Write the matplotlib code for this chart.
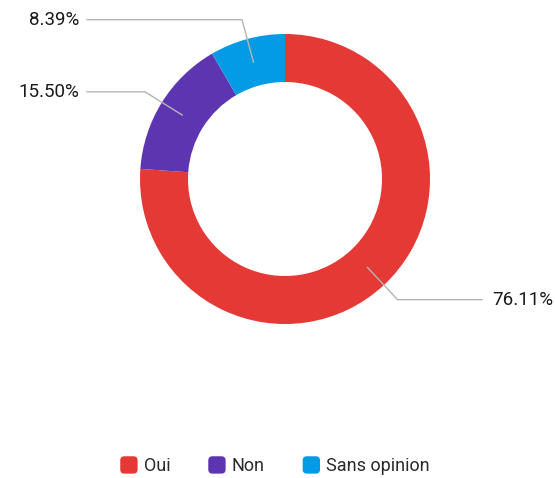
import matplotlib.pyplot as plt
import matplotlib.patches as patches
from matplotlib.legend_handler import HandlerPatch
import numpy as np

# Data
labels = ['Oui', 'Non', 'Sans opinion']
values = [76.11, 15.50, 8.39]
colors = ['#E53935', '#5E35B1', '#039BE5']

plt.rcParams['font.family'] = ['Roboto', 'DejaVu Sans']

# Figure in pixel coordinates
fig = plt.figure(figsize=(5.55, 4.78), dpi=100)
ax = fig.add_axes([0, 0, 1, 1])

cx, cy = 285, 478 - 179
r_out, width = 145, 48

wedges, _ = ax.pie(values, colors=colors, startangle=90, counterclock=False,
                   center=(cx, cy), radius=r_out, frame=True,
                   wedgeprops=dict(width=width, linewidth=0))
ax.set_xlim(0, 555)
ax.set_ylim(0, 478)
ax.set_aspect('equal')
ax.axis('off')

# Leader lines and percentage labels
r_mid = r_out - width / 2
r_elbow = 165
for w, v in zip(wedges, values):
    ang = np.deg2rad((w.theta1 + w.theta2) / 2)
    x0, y0 = cx + r_mid * np.cos(ang), cy + r_mid * np.sin(ang)
    x1, y1 = cx + r_elbow * np.cos(ang), cy + r_elbow * np.sin(ang)
    if np.cos(ang) < 0:
        x2 = 87
        ax.text(x2 - 8, y1, f'{v:.2f}%', ha='right', va='center',
                fontsize=13.5, color='#1a1a1a')
    else:
        x2 = 482
        ax.text(x2 + 10, y1, f'{v:.2f}%', ha='left', va='center',
                fontsize=13.5, color='#1a1a1a')
    ax.plot([x0, x1, x2], [y0, y1, y1], color='#b5b5b5', linewidth=1,
            solid_joinstyle='round')


# Rounded square legend handles
class RoundHandler(HandlerPatch):
    def create_artists(self, legend, orig_handle, xdescent, ydescent,
                       width, height, fontsize, trans):
        s = 12.5  # points, about 17 px
        y = -ydescent + (height - s) / 2
        p = patches.FancyBboxPatch((-xdescent + 2, y + 2), s - 4, s - 4,
                                   boxstyle='round,pad=2,rounding_size=3',
                                   facecolor=orig_handle.get_facecolor(),
                                   edgecolor='none', transform=trans)
        return [p]


handles = [patches.Patch(facecolor=c, label=l) for c, l in zip(colors, labels)]
ax.legend(handles=handles, loc='center', bbox_to_anchor=(275 / 555, 1 - 466 / 478),
          ncol=3, frameon=False, fontsize=13, handlelength=1.0, handleheight=1.0,
          handletextpad=0.3, columnspacing=2.1, labelcolor='#2a2a2a',
          handler_map={patches.Patch: RoundHandler()})

fig.savefig('out.png', dpi=100)
